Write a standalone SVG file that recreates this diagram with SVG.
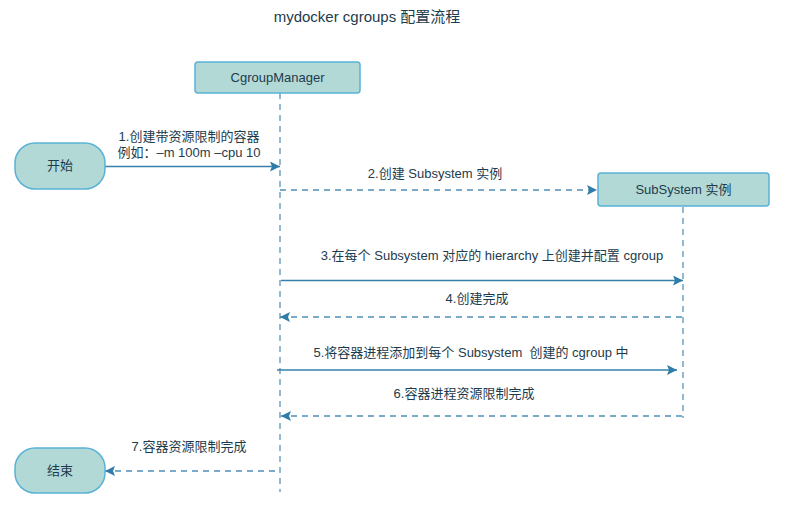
<svg xmlns="http://www.w3.org/2000/svg" width="798" height="510" viewBox="0 0 798 510">
<style>
.box{fill:#b3d9d6;stroke:#5ab2d6;stroke-width:1.5}
.t{font-family:"Liberation Sans","Noto Sans CJK SC",sans-serif;font-size:13px;fill:#1d3b4c;text-anchor:middle}
.title{font-size:15px}
.life{stroke:#6fa3c4;stroke-width:1.5;stroke-dasharray:6 5;fill:none}
.solid{stroke:#3581ab;stroke-width:1.3;fill:none}
.dash{stroke:#4d8fb6;stroke-width:1.3;stroke-dasharray:6 5;fill:none}
</style>
<defs>
<marker id="ah" viewBox="0 0 10 10" refX="10" refY="5" markerWidth="10" markerHeight="10" markerUnits="userSpaceOnUse" orient="auto">
<path d="M0,0 L10,5 L0,10 L2,5 Z" fill="#2f7ca8"/>
</marker>
</defs>
<rect width="798" height="510" fill="#ffffff"/>
<text class="t title" x="367" y="22">mydocker cgroups 配置流程</text>
<g id="connectors">
<line class="life" x1="280" y1="93" x2="280" y2="492"/>
<line class="life" x1="683" y1="207" x2="683" y2="418"/>
<line class="solid" x1="105" y1="166.5" x2="280" y2="166.5" marker-end="url(#ah)"/>
<line class="dash" x1="280" y1="190" x2="597" y2="190" marker-end="url(#ah)"/>
<line class="solid" x1="281" y1="280.5" x2="683" y2="280.5" marker-end="url(#ah)"/>
<line class="dash" x1="682" y1="317" x2="280" y2="317" marker-end="url(#ah)"/>
<line class="solid" x1="277" y1="370" x2="677" y2="370" marker-end="url(#ah)"/>
<line class="dash" x1="682" y1="416" x2="281" y2="416" marker-end="url(#ah)"/>
<line class="dash" x1="275" y1="471" x2="105" y2="471" marker-end="url(#ah)"/>
<text class="t" x="189" y="141">1.创建带资源限制的容器</text>
<text class="t" x="189" y="157">例如：–m 100m –cpu 10</text>
<text class="t" x="435" y="178">2.创建 Subsystem 实例</text>
<text class="t" x="492" y="260">3.在每个 Subsystem 对应的 hierarchy 上创建并配置 cgroup</text>
<text class="t" x="477" y="303">4.创建完成</text>
<text class="t" x="471" y="357" xml:space="preserve">5.将容器进程添加到每个 Subsystem  创建的 cgroup 中</text>
<text class="t" x="464" y="398">6.容器进程资源限制完成</text>
<text class="t" x="189" y="451">7.容器资源限制完成</text>
</g>
<g id="cgroupmanager">
<rect class="box" x="195" y="62" width="165" height="31" rx="3"/>
<text class="t" x="277.5" y="82">CgroupManager</text>
</g>
<g id="start">
<rect class="box" x="15" y="143" width="90" height="46" rx="20"/>
<text class="t" x="60" y="170">开始</text>
</g>
<g id="subsystem">
<rect class="box" x="598" y="173" width="171" height="33" rx="3"/>
<text class="t" x="683.5" y="194">SubSystem 实例</text>
</g>
<g id="end">
<rect class="box" x="15" y="448" width="90" height="45" rx="20"/>
<text class="t" x="60" y="475">结束</text>
</g>
</svg>
